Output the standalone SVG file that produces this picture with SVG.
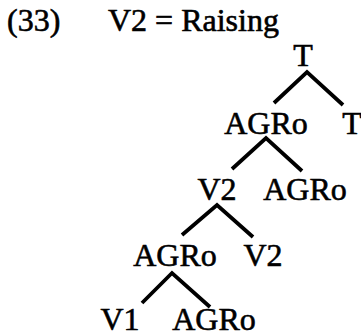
<svg xmlns="http://www.w3.org/2000/svg" width="361" height="336" viewBox="0 0 361 336">
<style>
text{font-family:"Liberation Serif","Times New Roman",serif;font-size:32px;fill:#000;stroke:#000;stroke-width:0.6}
.n{text-anchor:middle}
.e{stroke:#000;stroke-width:3.8;fill:none;stroke-linecap:butt;stroke-linejoin:miter}
</style>
<rect width="361" height="336" fill="#fff"/>
<g id="title">
<text x="7" y="31">(33)</text>
<text x="108" y="31">V2 = Raising</text>
</g>
<g id="connectors">
<polyline class="e" points="274,103 307,72 343,105"/>
<polyline class="e" points="232,169 266,138 302,171"/>
<polyline class="e" points="182,235 217,205 253,237"/>
<polyline class="e" points="142,303 172,273 210,307"/>
</g>
<g id="n-T"><text class="n" x="303" y="66">T</text></g>
<g id="n-AGRo1"><text class="n" x="266" y="134">AGRo</text></g>
<g id="n-T2"><text class="n" x="352" y="134">T</text></g>
<g id="n-V2a"><text class="n" x="217" y="200">V2</text></g>
<g id="n-AGRo2"><text class="n" x="305" y="200">AGRo</text></g>
<g id="n-AGRo3"><text class="n" x="175" y="266">AGRo</text></g>
<g id="n-V2b"><text class="n" x="263" y="266">V2</text></g>
<g id="n-V1"><text class="n" x="120" y="330">V1</text></g>
<g id="n-AGRo4"><text class="n" x="214" y="330">AGRo</text></g>
</svg>
